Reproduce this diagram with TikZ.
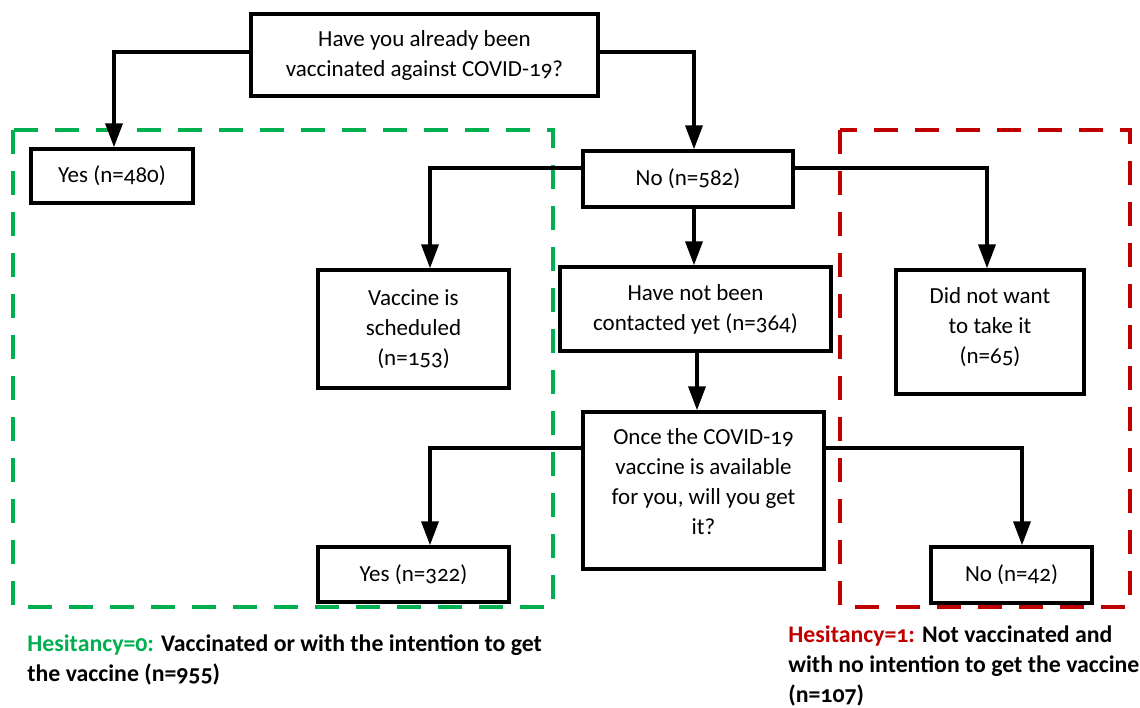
\documentclass[tikz,border=0pt]{standalone}
\usepackage{fontspec}
\setmainfont{Carlito}[Numbers=OldStyle]
\usetikzlibrary{positioning}
\usetikzlibrary{calc}
\usetikzlibrary{arrows.meta}
\definecolor{hesgreen}{RGB}{0,176,80}
\definecolor{hesred}{RGB}{192,0,0}
\begin{document}
\begin{tikzpicture}[x=0.5pt, y=-0.5pt,
    FLOW/.style={rectangle, draw=black, fill=white, line width=1.7pt, align=center, inner sep=1pt,
                 font=\fontsize{11.5}{15}\selectfont},
    FLOWARROW/.style={-{Triangle[width=8.5pt,length=12pt]}, line width=1.8pt},
    FRAME/.style={line width=2.4pt, dash pattern=on 12pt off 8.5pt},
    NOTE/.style={anchor=north west, inner sep=0pt, align=left, font=\bfseries\fontsize{11.9}{15}\selectfont},
    ]
        \useasboundingbox (0,0) rectangle (1140,707);

        \node[FLOW, minimum width=173.5pt, minimum height=41pt] (Q1) at (424.5,55) {Have you already been\\vaccinated against COVID-19?};
        \node[FLOW, minimum width=81pt, minimum height=27pt] (Yes1) at (112,176) {Yes (n=480)};
        \node[FLOW, minimum width=105pt, minimum height=28pt] (No1) at (688,179) {No (n=582)};
        \node[FLOW, minimum width=95.5pt, minimum height=59pt] (Sched) at (413.5,329) {Vaccine is\\scheduled\\(n=153)};
        \node[FLOW, minimum width=135.5pt, minimum height=42pt] (Contact) at (695.5,309) {Have not been\\contacted yet (n=364)};
        \node[FLOW, minimum width=94pt, minimum height=62pt] (Refuse) at (990,332) {Did not want\\to take it\\(n=65)\\[-9pt]};
        \node[FLOW, minimum width=120.5pt, minimum height=78.5pt] (Once) at (703.5,490.5) {Once the COVID-19\\vaccine is available\\for you, will you get\\it?\\[-6.5pt]};
        \node[FLOW, minimum width=95.5pt, minimum height=27.5pt] (Yes2) at (413.5,574.5) {Yes (n=322)};
        \node[FLOW, minimum width=80.5pt, minimum height=28pt] (No2) at (1011.5,575) {No (n=42)};

        \draw[FRAME, hesgreen] (13,130) rectangle (553,607);
        \draw[FRAME, hesred] (840,130) rectangle (1130,607);

        \draw[FLOWARROW] ([yshift=1.5pt] Q1.west) -| ([xshift=1pt] Yes1.north);
        \draw[FLOWARROW] ([yshift=1.5pt] Q1.east) -| ([xshift=3pt] No1.north);
        \draw[FLOWARROW] ([yshift=5.5pt] No1.west) -| ([xshift=8.25pt] Sched.north);
        \draw[FLOWARROW] ([yshift=5.5pt] No1.east) -| ([xshift=-1.5pt] Refuse.north);
        \draw[FLOWARROW] ([xshift=3pt] No1.south) -- ([xshift=3pt] No1.south |- Contact.north);
        \draw[FLOWARROW] ([xshift=-3.25pt] Once.north |- Contact.south) -- ([xshift=-3.25pt] Once.north);
        \draw[FLOWARROW] ([yshift=21.25pt] Once.west) -| ([xshift=8.25pt] Yes2.north);
        \draw[FLOWARROW] ([yshift=21.25pt] Once.east) -| ([xshift=5.25pt] No2.north);

        \node[NOTE] (NoteGreen) at (27,634) {\textcolor{hesgreen}{Hesitancy=0:} Vaccinated or with the intention to get\\the vaccine (n=955)};
        \node[NOTE] (NoteRed) at (788,625) {\textcolor{hesred}{Hesitancy=1:} Not vaccinated and\\with no intention to get the vaccine\\(n=107)};
    \end{tikzpicture}
\end{document}
